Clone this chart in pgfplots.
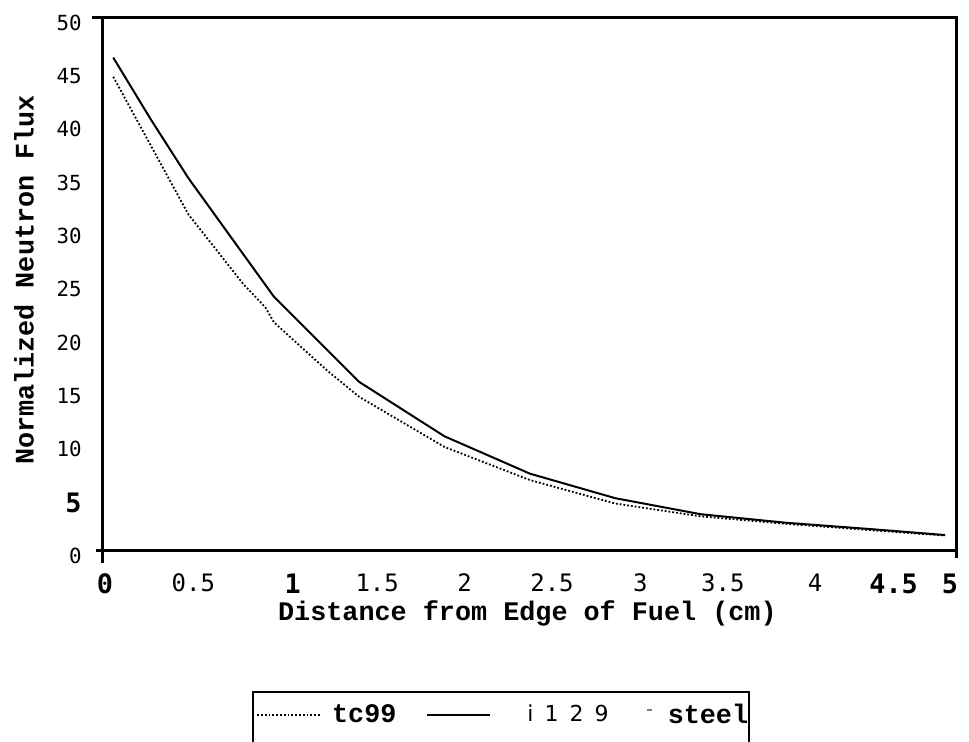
\documentclass[border=0pt]{standalone}
\usepackage{pgfplots}
\pgfplotsset{compat=1.18}
\usepackage{fontspec}
\setmainfont{Liberation Mono}
\newfontfamily\tickfont{DejaVu Sans Mono}
\newfontfamily\lightsans{DejaVu Sans}
\newcommand{\tk}[2]{\hspace*{#1}#2}
\newcommand{\bt}[1]{{\fontsize{13.4}{14}\selectfont\bfseries #1}}
\begin{document}
\begin{tikzpicture}
\begin{axis}[
  name=ax, scale only axis, width=427pt, height=266.75pt,
  xmin=0, xmax=5, ymin=0, ymax=50, clip=false,
  axis line style={line width=1.5pt},
  xtick={0,0.5,1,1.5,2,2.5,3,3.5,4,4.5,5},
  ytick={0,5,10,15,20,25,30,35,40,45,50},
  major tick length=0pt,
  xticklabels={\tk{2pt}{\bt{0}},\tk{5pt}{0.5},\tk{19pt}{\bt{1}},\tk{18pt}{1.5},\tk{20pt}{2},\tk{22pt}{2.5},\tk{25pt}{3},\tk{22pt}{3.5},\tk{29pt}{4},\tk{22pt}{\bt{4.5}},\tk{-7pt}{\bt{5}}},
  yticklabels={0,\bt{5},10,15,20,25,30,35,40,45,50},
  xticklabel style={anchor=north, inner sep=0pt, yshift=-11.5pt, font=\fontsize{12}{13}\tickfont},
  yticklabel style={anchor=east, inner sep=0pt, xshift=-10.5pt, yshift=-2.75pt, font=\fontsize{10.4}{12}\tickfont},
  xlabel={Distance from Edge of Fuel (cm)},
  ylabel={Normalized Neutron Flux},
  every axis x label/.style={at={([yshift=-31.25pt]axis description cs:0.497,0)}, anchor=center, font=\fontsize{13.4}{14}\selectfont\bfseries},
  every axis y label/.style={at={([xshift=-39.5pt]axis description cs:0,0.507)}, anchor=center, rotate=90, font=\fontsize{13.4}{14}\selectfont\bfseries},
  legend columns=3,
  legend style={at={([yshift=1pt]axis description cs:0.1745,-0.2664)}, anchor=north west, draw=black, line width=1.2pt, inner xsep=0pt, inner ysep=6pt, nodes={inner sep=0pt}, column sep=0pt},
]
\addplot[black, densely dotted, line width=0.9pt,
  legend image code/.code={\path[draw=none] (0pt,0pt) (2pt,-8pt); \draw[black, densely dotted, line width=0.9pt] (2pt,0pt) -- (34pt,0pt);}]
  coordinates {(0.06,44.4) (0.5,31.5) (0.82,25.0) (0.95,22.8) (1.0,21.4) (1.31,16.9) (1.5,14.4) (2.0,9.7) (2.5,6.6) (3.0,4.4) (3.5,3.2) (4.0,2.5) (4.5,1.9) (4.93,1.4)};
\addlegendentry{\hspace*{5pt}\bt{tc99}\hspace*{15pt}}
\addplot[black, line width=1pt,
  legend image code/.code={\draw[black, line width=1pt] (0pt,0pt) -- (31.5pt,0pt);}]
  coordinates {(0.06,46.2) (0.28,40.4) (0.5,34.9) (1.0,23.8) (1.5,15.8) (2.0,10.7) (2.5,7.2) (3.0,4.9) (3.5,3.4) (4.0,2.6) (4.5,2.0) (4.93,1.45)};
\addlegendentry{\hspace*{18pt}{\fontsize{11}{12}\lightsans i\hspace{5.5pt}1\hspace{5.5pt}2\hspace{5.5pt}9}\hspace*{19pt}}
\addlegendimage{legend image code/.code={\draw[line width=0.6pt, gray] (0pt,2.5pt) -- (2.5pt,2.5pt);}}
\addlegendentry{\hspace*{7.5pt}\bt{steel}\hspace*{0.5pt}}
\coordinate (O) at (rel axis cs:0,0);
\draw[line width=1.5pt] (rel axis cs:0,0) -- ++(0,-6pt);
\draw[line width=1.5pt] (rel axis cs:1,0) -- ++(0,-3.5pt);
\draw[line width=1.5pt] (rel axis cs:0,0) -- ++(-3.5pt,0);
\draw[line width=1.5pt] (rel axis cs:0,1) -- ++(-5.5pt,0);
\end{axis}
\pgfresetboundingbox
\path[use as bounding box] ([shift={(-51.5pt,-95.25pt)}]O) rectangle ([shift={(433pt,275.25pt)}]O);
\end{tikzpicture}
\end{document}
